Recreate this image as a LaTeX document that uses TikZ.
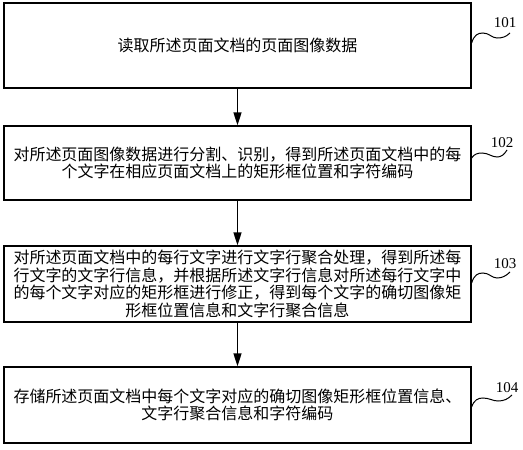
\documentclass[tikz,border=0pt]{standalone}
\usepackage{fontspec}
\setmainfont{Liberation Serif}
\newfontfamily\cjk{Noto Sans CJK SC}
\usetikzlibrary{arrows.meta}
\begin{document}
\begin{tikzpicture}[x=1pt,y=-1pt,
            stepbox/.style={draw, line width=1.3pt, minimum width=467pt, inner sep=2pt,
                align=center, font=\cjk\fontsize{16}{17.5}\selectfont},
            arrow/.style={line width=1.3pt, -{Triangle[width=8pt,length=13pt]}},
            num/.style={font=\fontsize{15}{15}\selectfont, inner sep=1pt},
            wave/.style={line width=1pt}
            ]
            \useasboundingbox (0,0) rectangle (523,450);

            \node[stepbox, minimum height=85pt] (s1) at (237.5,45.5) {读取所述页面文档的页面图像数据};
            \node[stepbox, minimum height=74pt] (s2) at (237.5,163) {对所述页面图像数据进行分割、识别，得到所述页面文档中的每\\个文字在相应页面文档上的矩形框位置和字符编码};
            \node[stepbox, minimum height=76pt] (s3) at (237.5,284) {对所述页面文档中的每行文字进行文字行聚合处理，得到所述每\\行文字的文字行信息，并根据所述文字行信息对所述每行文字中\\的每个文字对应的矩形框进行修正，得到每个文字的确切图像矩\\形框位置信息和文字行聚合信息};
            \node[stepbox, minimum height=76pt] (s4) at (237.5,405) {存储所述页面文档中每个文字对应的确切图像矩形框位置信息、\\文字行聚合信息和字符编码};

            \node[num] (l101) at (505,23) {101};
            \node[num] (l102) at (502,143) {102};
            \node[num] (l103) at (505,264) {103};
            \node[num] (l104) at (507,388) {104};

            \coordinate (t101) at (510,33);
            \coordinate (t102) at (507,150);
            \coordinate (t103) at (510,272);
            \coordinate (t104) at (512,395);

            \draw[arrow] (s1) -- (s2);
            \draw[arrow] (s2) -- (s3);
            \draw[arrow] (s3) -- (s4);

            % squiggles to the step numbers
            \draw[wave] (s1.east |- 0,43) .. controls (474,35) and (478,33) .. (483,33)
                .. controls (489,33) and (492,38) .. (497,38) .. controls (502,38) and (506,37) .. (t101);
            \draw[wave] (s2.east |- 0,158) .. controls (474,154) and (478,153) .. (482,153)
                .. controls (488,153) and (492,157) .. (497,157) .. controls (501,157) and (504,155) .. (t102);
            \draw[wave] (s3.east |- 0,283) .. controls (474,275) and (478,273) .. (483,273)
                .. controls (489,273) and (492,278) .. (497,278) .. controls (502,278) and (506,276) .. (t103);
            \draw[wave] (s4.east |- 0,407) .. controls (474,400) and (478,398) .. (483,398)
                .. controls (489,398) and (493,401) .. (498,401) .. controls (504,401) and (508,399) .. (t104);

\end{tikzpicture}
\end{document}
